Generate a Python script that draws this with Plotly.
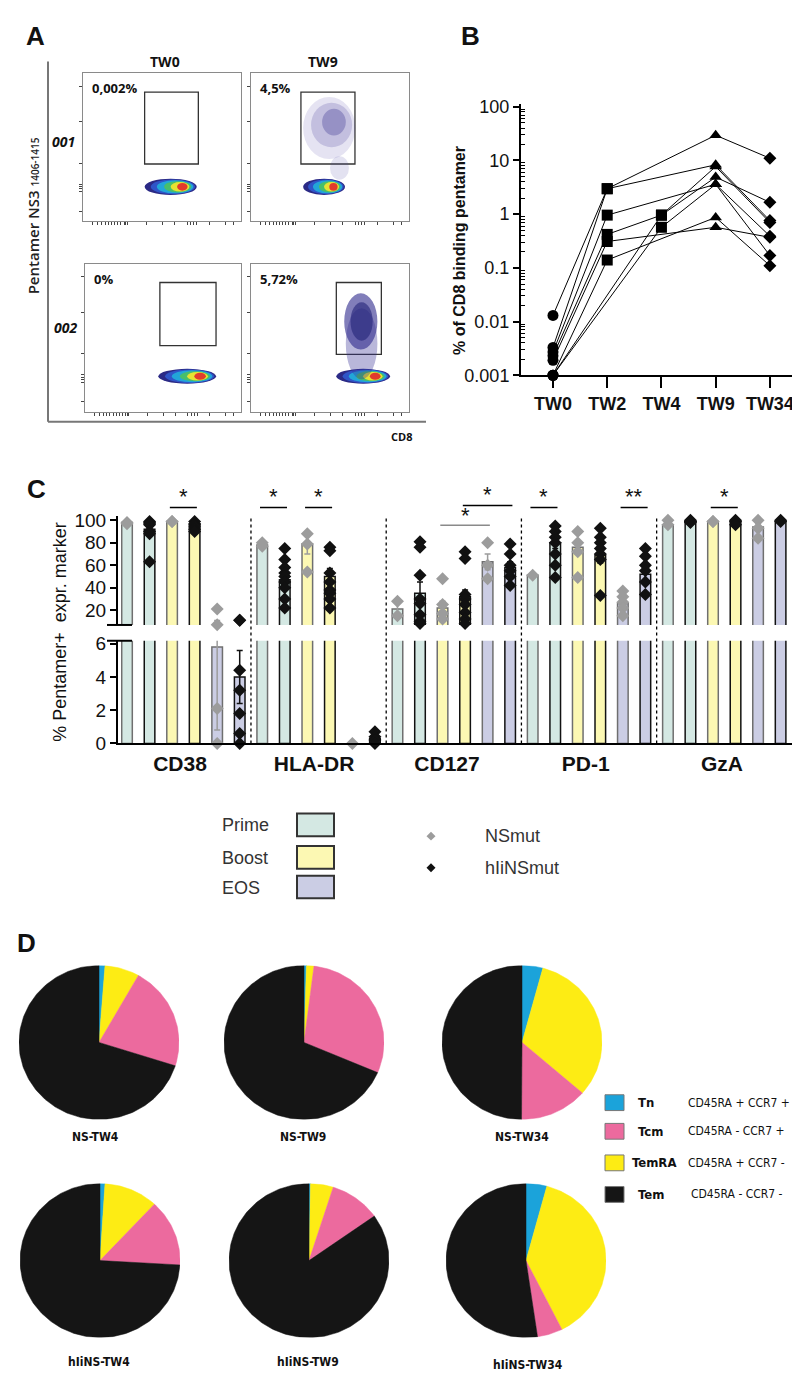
import math
import plotly.graph_objects as go

W, H = 800, 1384
def px(x): return x / W
def py(y): return 1 - y / H

ARIAL = "Liberation Sans, Arial, sans-serif"
OPEN = "Open Sans, sans-serif"
NARROW = "Liberation Sans Narrow, DejaVu Sans Condensed, Arial Narrow, sans-serif"

# ---------------- DATA ----------------
# Panel A (flow cytometry gates)
flow_times = ["TW0", "TW9"]
flow_patients = ["001", "002"]
flow_gate_pct = [["0,002%", "4,5%"], ["0%", "5,72%"]]

# Panel B: % of CD8 binding pentamer per subject (None = not measured)
timepoints = ["TW0", "TW2", "TW4", "TW9", "TW34"]
subj1 = [0.013, 2.98, None, 29.5, 11.0]
subj2 = [0.0033, 2.98, None, 8.3, 0.76]
subj3 = [0.0027, 0.96, None, 3.6, 0.39]
subj4 = [0.0023, 0.42, 0.96, 4.9, 1.66]
subj5 = [0.0019, 0.31, None, 0.57, 0.37]
subj6 = [0.001, 0.14, None, 0.87, 0.11]
subj7 = [0.001, None, 0.96, 7.7, 0.70]
subj8 = [0.001, None, 0.57, 3.6, 0.17]
subjects = [subj1, subj2, subj3, subj4, subj5, subj6, subj7, subj8]
tp_symbols = ["circle", "square", "square", "triangle-up", "diamond"]

# Panel C: % pentamer+ cells expressing marker
markers_c = ["CD38", "HLA-DR", "CD127", "PD-1", "GzA"]
prime_ns_mean = [98, 78, 21, 51, 96]
prime_hii_mean = [92, 47, 35, 80, 99]
boost_ns_mean = [99, 79, 22, 76, 99]
boost_hii_mean = [93, 50, 32, 69, 99]
eos_ns_mean = [5.8, 0, 63, 26, 94]
eos_hii_mean = [4.0, 0.3, 58, 52, 99]
prime_ns_err = [1, 2, 7, 0.5, 2]
prime_hii_err = [4, 5, 10, 5, 0.5]
boost_ns_err = [0.5, 9, 6, 6, 0.5]
boost_hii_err = [1.5, 7, 6, 7, 1]
eos_ns_err = [5, 0, 7, 4, 3]
eos_hii_err = [1.6, 0.2, 5, 5, 0.5]
prime_ns_pts = [[98, 97], [80, 77], [28, 15], [51], [100, 96]]
prime_hii_pts = [[99, 98, 97, 96, 90, 88, 63], [75, 65, 58, 53, 50, 45, 40, 30, 22],
                 [81, 76, 51, 30, 26, 16, 10, 8], [95, 90, 85, 80, 70, 60, 49], [100, 99, 99, 98]]
boost_ns_pts = [[99, 99], [88, 79, 54], [48, 25, 17, 12], [90, 80, 72, 49], [99, 99]]
boost_hii_pts = [[99, 97, 96, 95, 94, 92, 90], [76, 73, 53, 45, 38, 35, 30, 22],
                 [72, 66, 34, 30, 25, 18, 12, 8], [93, 85, 80, 75, 70, 65, 33], [100, 99, 96]]
eos_ns_pts = [[21, 7, 2.1, 0], [0], [80, 60, 48], [37, 32, 27, 22, 15], [100, 93, 84]]
eos_hii_pts = [[11, 11, 4.4, 3.2, 1.8, 0.6, 0], [0.7, 0.4, 0.2, 0], [79, 70, 60, 55, 50, 42],
               [75, 68, 60, 55, 45, 34], [100, 99]]
phase_names = ["Prime", "Boost", "EOS"]
vaccine_names = ["NSmut", "hIiNSmut"]
# significance: (from bar index, to bar index, label, colour)
sig_pairs = [(2, 3, "*", "black"), (6, 7, "*", "black"), (8, 9, "*", "black"),
             (14, 16, "*", "gray"), (15, 17, "*", "black"), (18, 19, "*", "black"),
             (22, 23, "**", "black"), (26, 27, "*", "black")]

# Panel D: memory subsets (% of pentamer+), clockwise from 12 o'clock
pie_names = ["NS-TW4", "NS-TW9", "NS-TW34", "hIiNS-TW4", "hIiNS-TW9", "hIiNS-TW34"]
tn_pct = [1.2, 0.5, 4.2, 1.0, 0.3, 4.2]
temra_pct = [7.0, 1.5, 32.2, 10.9, 4.6, 38.4]
tcm_pct = [21.7, 29.4, 13.7, 14.0, 10.3, 5.1]
tem_pct = [70.1, 68.6, 49.9, 74.1, 84.8, 52.3]
subset_names = ["Tn", "Tcm", "TemRA", "Tem"]
subset_desc = ["CD45RA + CCR7 +", "CD45RA - CCR7 +", "CD45RA + CCR7 -", "CD45RA - CCR7 -"]

# ---------------- STYLE ----------------
PRIME_C, BOOST_C, EOS_C = "#d4e8e3", "#fcf8b3", "#cbcde4"
NS_C, HII_C = "#9c9c9c", "#111111"
SUBSET_C = {"Tn": "#1ba3da", "Tcm": "#ec6a9e", "TemRA": "#fdec14", "Tem": "#151515"}

fig = go.Figure()
layout = dict(width=W, height=H, margin=dict(l=0, r=0, t=0, b=0), autosize=False,
              paper_bgcolor="white", plot_bgcolor="white", showlegend=False,
              shapes=[], annotations=[])
shapes = layout["shapes"]
anns = layout["annotations"]

def ann(x, y, text, size, color="#111", family=ARIAL, bold=False, italic=False,
        xanchor="center", angle=0, weight=None):
    w = weight if weight is not None else ("bold" if bold else "normal")
    anns.append(dict(x=px(x), y=py(y), xref="paper", yref="paper", text=text,
                     showarrow=False, xanchor=xanchor, yanchor="middle", textangle=angle,
                     font=dict(size=size, color=color, family=family, weight=w,
                               style="italic" if italic else "normal")))

def aname(k, n):
    return f"{k}axis" if n == 1 else f"{k}axis{n}"

def line(x0, y0, x1, y1, color="black", width=1.5, dash="solid"):
    shapes.append(dict(type="line", xref="paper", yref="paper", x0=px(x0), y0=py(y0),
                       x1=px(x1), y1=py(y1), line=dict(color=color, width=width, dash=dash)))

def ell(n, x0, x1, y0, y1, col):
    shapes.append(dict(type="circle", xref=f"x{n}", yref=f"y{n}", x0=x0, x1=x1, y0=y0, y1=y1,
                       fillcolor=col, line=dict(width=0)))

# ---------------- PANEL A ----------------
ann(27, 21, "A", 26, bold=True)
line(40, 47, 40, 412, color="#777", width=2)
line(40, 412, 418, 412, color="#777", width=2)
ann(393, 427, "CD8", 11, family=OPEN, bold=True)
ann(25, 204, "Pentamer NS3 <span style='font-size:10px'>1406-1415</span>", 15,
    family=OPEN, angle=-90, weight=600, color="#222")
ann(157, 47, flow_times[0], 14, family=OPEN, bold=True)
ann(315, 47, flow_times[1], 14, family=OPEN, bold=True)
ann(55, 128, flow_patients[0], 14, family=OPEN, bold=True, italic=True)
ann(58, 317, flow_patients[1], 14, family=OPEN, bold=True, italic=True)

frames = [(75, 233, 59, 209), (243, 401, 59, 209), (77, 233, 252, 402), (243, 401, 252, 402)]
gates = [(0.39, 0.73, 0.387, 0.873), (0.316, 0.658, 0.387, 0.873),
         (0.48, 0.84, 0.447, 0.873), (0.54, 0.825, 0.387, 0.873)]
blobs = [(0.39, 0.72, 0.233, 0.11), (0.33, 0.595, 0.233, 0.11),
         (0.47, 0.84, 0.24, 0.1), (0.54, 0.88, 0.24, 0.1)]
blob_layers = [(1.0, "#2b2a86"), (0.85, "#2f55c8"), (0.7, "#22a6d8"),
               (0.52, "#48bf6a"), (0.36, "#e6e332"), (0.2, "#e23b2c")]
xt = [0.06, 0.09, 0.12, 0.14, 0.16, 0.18, 0.2, 0.22, 0.24, 0.26, 0.27, 0.28, 0.4, 0.5, 0.58,
      0.66, 0.68, 0.7, 0.72, 0.8, 0.9, 0.95]
yt = [0.067, 0.2, 0.22, 0.233, 0.25, 0.393, 0.673, 0.913]
for n, (fx0, fx1, fy0, fy1) in enumerate(frames, start=1):
    r, c = divmod(n - 1, 2)
    layout[aname("x", n)] = dict(domain=[px(fx0), px(fx1)], range=[0, 1], anchor=f"y{n}",
                                 showline=True, mirror=True, linecolor="#8a8a8a", linewidth=1,
                                 ticks="outside", ticklen=3, tickcolor="#444", tickvals=xt,
                                 showticklabels=False, showgrid=False, zeroline=False, fixedrange=True)
    layout[aname("y", n)] = dict(domain=[py(fy1), py(fy0)], range=[0, 1], anchor=f"x{n}",
                                 showline=True, mirror=True, linecolor="#8a8a8a", linewidth=1,
                                 ticks="outside", ticklen=3, tickcolor="#444", tickvals=yt,
                                 showticklabels=False, showgrid=False, zeroline=False, fixedrange=True)
    fig.add_trace(go.Scatter(x=[None], y=[None], xaxis=f"x{n}", yaxis=f"y{n}", hoverinfo="skip"))
    gx0, gx1, gy0, gy1 = gates[n - 1]
    shapes.append(dict(type="rect", xref=f"x{n}", yref=f"y{n}", x0=gx0, x1=gx1, y0=gy0, y1=gy1,
                       line=dict(color="#333", width=1.3)))
    bx0, bx1, byc, bh = blobs[n - 1]
    for s, col in blob_layers:
        hw = (bx1 - bx0) / 2 * s
        cx = bx0 + (bx1 - bx0) * (0.5 + 0.28 * (1 - s))
        hh = bh / 2 * (0.35 + 0.65 * s)
        ell(n, cx - hw, cx + hw, byc - hh, byc + hh, col)
    ann(fx0 + 7, fy0 + 15, flow_gate_pct[r][c], 13, family=OPEN, bold=True, xanchor="left")

# pentamer+ populations (TW9), drawn as soft density clouds
ell(2, 0.33, 0.66, 0.42, 0.84, "rgba(70,60,160,0.14)")
ell(2, 0.38, 0.64, 0.5, 0.8, "rgba(60,50,150,0.2)")
ell(2, 0.45, 0.6, 0.58, 0.76, "rgba(45,40,140,0.3)")
ell(2, 0.5, 0.62, 0.28, 0.44, "rgba(70,60,160,0.15)")
ell(4, 0.6, 0.8, 0.22, 0.7, "rgba(55,50,150,0.35)")
ell(4, 0.59, 0.8, 0.42, 0.8, "rgba(45,40,140,0.6)")
ell(4, 0.63, 0.77, 0.48, 0.74, "rgba(35,35,120,0.6)")

# ---------------- PANEL B ----------------
ann(462, 21, "B", 26, bold=True)
for s in subjects:
    xs = [i for i, v in enumerate(s) if v is not None]
    ys = [v for v in s if v is not None]
    fig.add_trace(go.Scatter(x=xs, y=ys, mode="lines", line=dict(color="black", width=1),
                             xaxis="x5", yaxis="y5", hoverinfo="skip"))
for i, tp in enumerate(timepoints):
    vals = [s[i] for s in subjects if s[i] is not None]
    fig.add_trace(go.Scatter(x=[i] * len(vals), y=vals, mode="markers", cliponaxis=False,
                             marker=dict(symbol=tp_symbols[i], color="black",
                                         size=11 if i != 4 else 10, line=dict(width=0)),
                             xaxis="x5", yaxis="y5", name=tp))
layout["xaxis5"] = dict(domain=[px(513), px(789)], range=[-0.59, 4.5], anchor="y5",
                        showline=True, linewidth=2, linecolor="black", ticks="outside",
                        ticklen=11, tickwidth=2, tickcolor="black", tickvals=list(range(5)),
                        ticktext=timepoints, tickfont=dict(size=18, family=ARIAL, color="#111",
                                                           weight="bold"),
                        showgrid=False, zeroline=False)
minor_vals = [k * 10 ** e for e in range(-3, 2) for k in range(2, 10)]
layout["yaxis5"] = dict(type="log", domain=[py(365), py(90)], range=[-3, 2.055], anchor="x5",
                        showline=True, linewidth=2, linecolor="black", ticks="outside",
                        ticklen=6, tickwidth=2, tickcolor="black",
                        tickvals=[0.001, 0.01, 0.1, 1, 10, 100],
                        ticktext=["0.001", "0.01", "0.1", "1", "10", "100"],
                        tickfont=dict(size=18, family=ARIAL, color="#111"),
                        minor=dict(ticks="inside", ticklen=4, tickwidth=1, tickcolor="black",
                                   tickvals=minor_vals, showgrid=False),
                        showgrid=False, zeroline=False)
ann(452, 238, "% of CD8 binding pentamer", 16, bold=True, angle=-90)

# ---------------- PANEL C ----------------
ann(28, 480, "C", 26, bold=True)
conds = [
    (prime_ns_mean, prime_ns_err, prime_ns_pts, PRIME_C, "#6f6f6f", NS_C),
    (prime_hii_mean, prime_hii_err, prime_hii_pts, PRIME_C, "#111", HII_C),
    (boost_ns_mean, boost_ns_err, boost_ns_pts, BOOST_C, "#6f6f6f", NS_C),
    (boost_hii_mean, boost_hii_err, boost_hii_pts, BOOST_C, "#111", HII_C),
    (eos_ns_mean, eos_ns_err, eos_ns_pts, EOS_C, "#6f6f6f", NS_C),
    (eos_hii_mean, eos_hii_err, eos_hii_pts, EOS_C, "#111", HII_C),
]
UP_RANGE = [6.8, 103.5]
LO_RANGE = [0, 6.18]
for yax, rng in (("y6", UP_RANGE), ("y7", LO_RANGE)):
    for c, (means, errs, pts, fc, lc, pc) in enumerate(conds):
        xs = [6 * g + c for g in range(len(markers_c))]
        fig.add_trace(go.Bar(x=xs, y=means, width=0.47, xaxis="x6", yaxis=yax,
                             marker=dict(color=fc, line=dict(color=lc, width=1.5)),
                             error_y=dict(type="data", array=errs, visible=True, color=pc,
                                          thickness=1.5, width=3),
                             hoverinfo="skip"))
    for c, (means, errs, pts, fc, lc, pc) in enumerate(conds):
        xs, ys = [], []
        for g, plist in enumerate(pts):
            for v in plist:
                if rng[0] <= v <= rng[1]:
                    xs.append(6 * g + c)
                    ys.append(v)
        fig.add_trace(go.Scatter(x=xs, y=ys, mode="markers", cliponaxis=False,
                                 marker=dict(symbol="diamond", color=pc, size=10, line=dict(width=0)),
                                 xaxis="x6", yaxis=yax, hoverinfo="skip"))

group_centers = [2.35, 8.3, 14.2, 20.35, 26.4]
layout["xaxis6"] = dict(domain=[px(110), px(785)], range=[-0.4, 29.55], anchor="y7",
                        showline=True, linewidth=2, linecolor="black", ticks="",
                        tickvals=group_centers, ticktext=markers_c,
                        tickfont=dict(size=21, family=ARIAL, color="#111", weight="bold"),
                        showgrid=False, zeroline=False)
layout["yaxis6"] = dict(domain=[py(618), py(508)], range=UP_RANGE, anchor="x6",
                        showline=True, linewidth=2, linecolor="black", ticks="outside",
                        ticklen=6, tickwidth=2, tickcolor="black", tickvals=[20, 40, 60, 80, 100],
                        tickfont=dict(size=19, family=ARIAL, color="#111"),
                        showgrid=False, zeroline=False)
layout["yaxis7"] = dict(domain=[py(738), py(634)], range=LO_RANGE, anchor="x6",
                        showline=True, linewidth=2, linecolor="black", ticks="outside",
                        ticklen=6, tickwidth=2, tickcolor="black", tickvals=[0, 2, 4, 6],
                        tickfont=dict(size=19, family=ARIAL, color="#111"),
                        showgrid=False, zeroline=False)
line(99, 618, 124, 618, width=2)
line(99, 634, 124, 634, width=2)
ann(52, 625, "% Pentamer+  expr. marker", 18, angle=-90)
for xsep in (5.5, 11.5, 17.5, 23.5):
    shapes.append(dict(type="line", xref="x6", yref="paper", x0=xsep, x1=xsep,
                       y0=py(738), y1=py(508), line=dict(color="black", width=1.3, dash="dot")))
for (a, b, lab, col) in sig_pairs:
    if col == "gray":
        ly, sy, lc = 517, 507, "#8a8a8a"
    elif (a, b) == (15, 17):
        ly, sy, lc = 497, 486, "black"
    else:
        ly, sy, lc = 499, 488, "black"
    shapes.append(dict(type="line", xref="x6", yref="paper", x0=a - 0.1, x1=b + 0.1,
                       y0=py(ly), y1=py(ly), line=dict(color=lc, width=1.5)))
    anns.append(dict(x=(a + b) / 2, y=py(sy), xref="x6", yref="paper", text=lab,
                     showarrow=False, xanchor="center", yanchor="middle",
                     font=dict(size=22, family=ARIAL, color="#111")))

# Legend for C
for k, (lab, col) in enumerate(zip(phase_names, [PRIME_C, BOOST_C, EOS_C])):
    y0 = [809, 842, 872][k]
    shapes.append(dict(type="rect", xref="paper", yref="paper", x0=px(289), x1=px(326),
                       y0=py(y0 + 23), y1=py(y0), fillcolor=col, line=dict(color="#333", width=2)))
    ann(212, y0 + 12, lab, 18, color="#333", xanchor="left")
for k, (lab, col) in enumerate(zip(vaccine_names, [NS_C, HII_C])):
    cy = [832, 864][k]
    cx = 423
    d = 4.5
    path = (f"M {px(cx)},{py(cy - d)} L {px(cx + d)},{py(cy)} L {px(cx)},{py(cy + d)} "
            f"L {px(cx - d)},{py(cy)} Z")
    shapes.append(dict(type="path", xref="paper", yref="paper", path=path, fillcolor=col,
                       line=dict(width=0)))
    ann(475, cy, lab, 18, color="#333", xanchor="left")

# ---------------- PANEL D ----------------
ann(18, 940, "D", 26, bold=True)
pie_boxes = [(91, 1041), (296, 1041), (514, 1041), (92, 1262), (301, 1262), (518, 1262)]
PR_X, PR_Y = 80, 78
label_pos = [(87, 1137), (295, 1137), (514, 1137), (91, 1365), (300, 1365), (520, 1368)]
for i, name in enumerate(pie_names):
    n = 8 + i
    cx, cy = pie_boxes[i]
    layout[aname("x", n)] = dict(domain=[px(cx - PR_X), px(cx + PR_X)], range=[-1, 1],
                                 anchor=f"y{n}", visible=False, fixedrange=True)
    layout[aname("y", n)] = dict(domain=[py(cy + PR_Y), py(cy - PR_Y)], range=[-1, 1],
                                 anchor=f"x{n}", visible=False, fixedrange=True)
    vals = [("Tn", tn_pct[i]), ("TemRA", temra_pct[i]), ("Tcm", tcm_pct[i]), ("Tem", tem_pct[i])]
    tot = sum(v for _, v in vals)
    cum = 0.0
    for sub, v in vals:
        a0 = 2 * math.pi * cum / tot
        a1 = 2 * math.pi * (cum + v) / tot
        cum += v
        steps = max(4, int(v * 3))
        xs = [0.0] + [math.sin(a0 + (a1 - a0) * k / steps) for k in range(steps + 1)] + [0.0]
        ys = [0.0] + [math.cos(a0 + (a1 - a0) * k / steps) for k in range(steps + 1)] + [0.0]
        fig.add_trace(go.Scatter(x=xs, y=ys, mode="lines", fill="toself", fillcolor=SUBSET_C[sub],
                                 line=dict(color=SUBSET_C[sub], width=0.5),
                                 xaxis=f"x{n}", yaxis=f"y{n}", hoverinfo="skip"))
    lx, ly = label_pos[i]
    ann(lx, ly, name, 12, family=NARROW, bold=True)

leg_y = [1102, 1131, 1163, 1195]
for k, sub in enumerate(subset_names):
    y = leg_y[k]
    shapes.append(dict(type="rect", xref="paper", yref="paper", x0=px(597), x1=px(616),
                       y0=py(y + 8), y1=py(y - 8), fillcolor=SUBSET_C[sub],
                       line=dict(color="#777", width=1)))
    ann(628 if sub != "TemRA" else 622, y, sub, 13, family=NARROW, bold=True, xanchor="left")
    ann(678 if sub != "Tem" else 681, y, subset_desc[k], 12, family=NARROW, xanchor="left")

fig.update_layout(**layout)
fig.write_html("out.html")
